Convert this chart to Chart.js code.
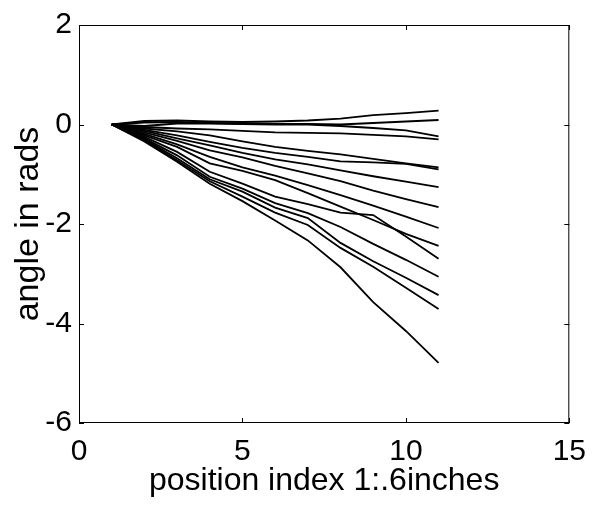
<!DOCTYPE html>
<html>
<head>
<meta charset="utf-8">
<script src="https://cdn.jsdelivr.net/npm/chart.js@4/dist/chart.umd.min.js"></script>
<style>
  html, body { margin: 0; padding: 0; background: #fff; }
  canvas { display: block; }
</style>
</head>
<body>
<canvas id="angles" width="597" height="510"></canvas>
<script>
// position index along the strip
const positions = [1, 2, 3, 4, 5, 6, 7, 8, 9, 10, 11];

// measured angle (rads) at each position, one run per array
const run1  = [0, 0.07, 0.08, 0.06, 0.05, 0.06, 0.08, 0.12, 0.19, 0.23, 0.28];
const run2  = [0, 0.04, 0.05, 0.03, 0.02, 0.01, 0.01, 0.00, 0.03, 0.06, 0.09];
const run3  = [0, -0.03, 0.02, 0.02, 0.01, 0.00, 0.00, -0.03, -0.07, -0.12, -0.24];
const run4  = [0, -0.05, -0.08, -0.10, -0.13, -0.16, -0.17, -0.18, -0.21, -0.24, -0.30];
const run5  = [0, -0.08, -0.14, -0.22, -0.34, -0.45, -0.53, -0.60, -0.69, -0.78, -0.86];
const run6  = [0, -0.11, -0.22, -0.35, -0.47, -0.57, -0.65, -0.74, -0.76, -0.79, -0.90];
const run7  = [0, -0.13, -0.28, -0.42, -0.57, -0.70, -0.80, -0.92, -1.04, -1.15, -1.26];
const run8  = [0, -0.16, -0.33, -0.52, -0.66, -0.83, -0.98, -1.14, -1.33, -1.50, -1.66];
const run9  = [0, -0.19, -0.40, -0.65, -0.86, -1.03, -1.22, -1.42, -1.63, -1.85, -2.08];
const run10 = [0, -0.22, -0.45, -0.78, -0.93, -1.12, -1.38, -1.65, -1.92, -2.20, -2.44];
const run11 = [0, -0.25, -0.55, -0.95, -1.19, -1.45, -1.60, -1.77, -1.82, -2.25, -2.70];
const run12 = [0, -0.28, -0.62, -1.05, -1.29, -1.58, -1.78, -2.06, -2.40, -2.72, -3.06];
const run13 = [0, -0.30, -0.68, -1.10, -1.35, -1.67, -1.88, -2.38, -2.75, -3.08, -3.43];
const run14 = [0, -0.32, -0.72, -1.14, -1.45, -1.77, -2.02, -2.48, -2.86, -3.28, -3.71];
const run15 = [0, -0.34, -0.75, -1.19, -1.54, -1.93, -2.33, -2.87, -3.57, -4.15, -4.79];

const runs = [run1, run2, run3, run4, run5, run6, run7, run8, run9, run10,
              run11, run12, run13, run14, run15];

const xTicks = [0, 5, 10, 15];
const yTicks = [-6, -4, -2, 0, 2];

const FONT = "'Liberation Sans', Arial, Helvetica, sans-serif";

const datasets = runs.map((vals, i) => ({
  label: 'run ' + (i + 1),
  data: positions.map((p, k) => ({ x: p, y: vals[k] })),
  borderColor: '#000',
  borderWidth: 1.8,
  pointRadius: 0,
  tension: 0,
  fill: false
}));

// box around the plot with short inward ticks on all four sides
const boxTicks = {
  id: 'boxTicks',
  afterDatasetsDraw(chart) {
    const { ctx, chartArea: a, scales } = chart;
    const len = 5;
    ctx.save();
    ctx.strokeStyle = '#000';
    ctx.lineWidth = 1;
    ctx.strokeRect(a.left + 0.5, a.top + 0.5, a.right - a.left - 1, a.bottom - a.top - 1);
    ctx.beginPath();
    xTicks.forEach(v => {
      const px = Math.round(scales.x.getPixelForValue(v)) + 0.5;
      ctx.moveTo(px, a.bottom); ctx.lineTo(px, a.bottom - len);
      ctx.moveTo(px, a.top); ctx.lineTo(px, a.top + len);
    });
    yTicks.forEach(v => {
      const py = Math.round(scales.y.getPixelForValue(v)) + 0.5;
      ctx.moveTo(a.left, py); ctx.lineTo(a.left + len, py);
      ctx.moveTo(a.right, py); ctx.lineTo(a.right - len, py);
    });
    ctx.stroke();
    ctx.restore();
  }
};

new Chart(document.getElementById('angles'), {
  type: 'line',
  data: { datasets },
  options: {
    responsive: false,
    animation: false,
    devicePixelRatio: 1,
    layout: { padding: { top: 16, right: 20, left: 0, bottom: 0 } },
    plugins: { legend: { display: false }, tooltip: { enabled: false } },
    scales: {
      x: {
        type: 'linear',
        min: 0,
        max: 15,
        afterBuildTicks: s => { s.ticks = xTicks.map(v => ({ value: v })); },
        afterFit: s => { s.height = 87; },
        grid: { display: false, drawTicks: false },
        border: { display: false },
        ticks: { color: '#000', font: { family: FONT, size: 30 }, padding: 11, maxRotation: 0 },
        title: {
          display: true,
          text: 'position index 1:.6inches',
          color: '#000',
          font: { family: FONT, size: 32 },
          padding: { top: 0, bottom: 10 }
        }
      },
      y: {
        min: -6,
        max: 2,
        afterBuildTicks: s => { s.ticks = yTicks.map(v => ({ value: v })); },
        afterFit: s => { s.width = 79; },
        grid: { display: false, drawTicks: false },
        border: { display: false },
        ticks: { color: '#000', font: { family: FONT, size: 30 }, padding: 7 },
        title: {
          display: true,
          text: 'angle in rads',
          color: '#000',
          font: { family: FONT, size: 34 },
          padding: { top: 8, bottom: 0 }
        }
      }
    }
  },
  plugins: [boxTicks]
});
</script>
</body>
</html>
